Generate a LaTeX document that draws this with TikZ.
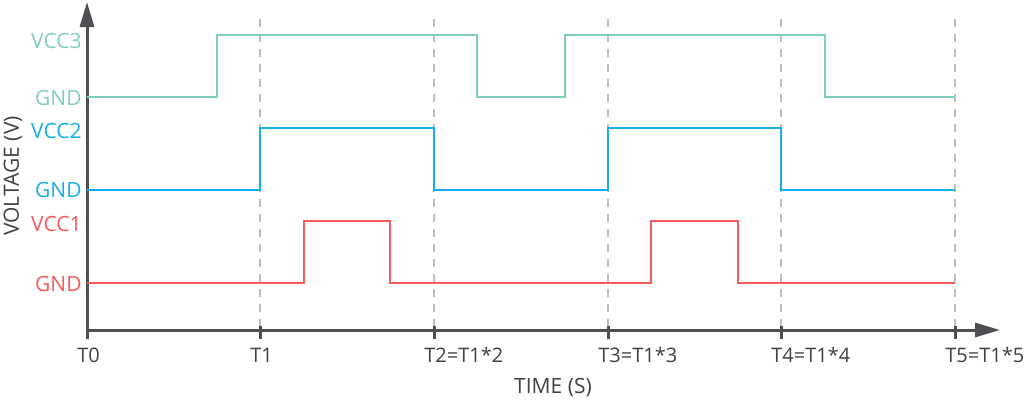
\documentclass[tikz,border=0pt]{standalone}
\usepackage{fontspec}
\setmainfont{Open Sans}
\usetikzlibrary{arrows.meta}
\definecolor{vccthree}{RGB}{128,206,190}
\definecolor{vcctwo}{RGB}{22,174,234}
\definecolor{vccone}{RGB}{245,90,92}
\definecolor{axisgray}{RGB}{77,79,83}
\definecolor{guidegray}{RGB}{190,190,190}
\definecolor{textgray}{RGB}{64,64,64}
\tikzset{
  axis/.style={draw=axisgray, line width=1.5pt},
  guide/.style={draw=guidegray, line width=1pt, dash pattern=on 4pt off 3.5pt},
  wave/.style={line width=1pt},
  lvl/.style={anchor=east, inner sep=0pt},
  tlabel/.style={anchor=base west, inner sep=0pt, text=textgray, font=\fontsize{10}{12}\selectfont},
}
\begin{document}
\begin{tikzpicture}[x=0.5pt, y=-0.5pt, font=\fontsize{10.5}{12}\selectfont]
\useasboundingbox (0,0) rectangle (1024,403);

% time grid
\foreach \x/\t in {87/T0, 260/T1, 434/T2{=}T1*2, 608/T3{=}T1*3, 781/T4{=}T1*4, 955/T5{=}T1*5} {
  \draw[guide] (\x,19) -- (\x,326);
  \draw[axis] (\x,326) -- (\x,339);
  \node[tlabel] at (\x-10,362) {\t};
}

% axes
\coordinate (origin) at (87,330);
\coordinate (ytip) at (87,2);
\coordinate (xtip) at (1000,330);
\draw[axis, -{Triangle[length=12.5pt, width=7pt]}] (origin) -- (ytip);
\draw[axis, -{Triangle[length=12.5pt, width=7pt]}] (origin) -- (xtip);
\node[text=textgray, rotate=90] (volt) at (13,176) {VOLTAGE (V)};
\node[text=textgray] (time) at (553,388) {TIME (S)};

% VCC3
\draw[wave, vccthree] (87,97) -| (217,35) -| (477,97) -| (565,35) -| (825,97) -- (955,97);
\node[lvl, text=vccthree] (vcc3) at (82,41) {VCC3};
\node[lvl, text=vccthree] (gnd3) at (82,98) {GND};

% VCC2
\draw[wave, vcctwo] (87,190) -| (260,128) -| (434,190) -| (608,128) -| (781,190) -- (955,190);
\node[lvl, text=vcctwo] (vcc2) at (82,131) {VCC2};
\node[lvl, text=vcctwo] (gnd2) at (82,190) {GND};

% VCC1
\draw[wave, vccone] (87,283) -| (304,221) -| (390,283) -| (651,221) -| (738,283) -- (955,283);
\node[lvl, text=vccone] (vcc1) at (82,224) {VCC1};
\node[lvl, text=vccone] (gnd1) at (82,284) {GND};
\end{tikzpicture}
\end{document}
